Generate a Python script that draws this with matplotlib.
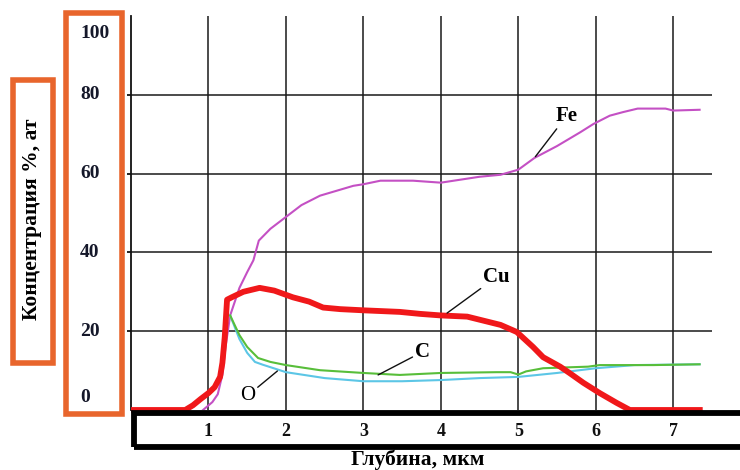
import matplotlib
matplotlib.use("Agg")
import matplotlib.pyplot as plt
from matplotlib.patches import Rectangle
from matplotlib.transforms import blended_transform_factory, offset_copy

# depth profiles, at.% vs depth in um
fe_depth = [0.93, 1.05, 1.12, 1.18, 1.22, 1.28, 1.4, 1.5, 1.58, 1.65, 1.8, 2.0, 2.2,
            2.44, 2.87, 3.0, 3.22, 3.64, 4.0, 4.5, 4.77, 5.0, 5.21, 5.5, 5.8, 5.97,
            6.18, 6.35, 6.54, 6.9, 7.0, 7.34]
fe_conc = [0, 2, 4, 9, 16, 24, 31, 35, 38, 43, 46, 49, 52,
           54.4, 56.9, 57.3, 58.2, 58.2, 57.7, 59.2, 59.7, 61, 64, 67, 70.5, 72.6,
           74.7, 75.6, 76.5, 76.5, 76, 76.2]

cu_depth = [0, 0.7, 0.8, 0.9, 1.0, 1.08, 1.15, 1.18, 1.21, 1.24, 1.3, 1.45, 1.66,
            1.85, 2.09, 2.3, 2.48, 2.7, 3.0, 3.47, 3.73, 4.0, 4.34, 4.77, 4.98, 5.19,
            5.32, 5.54, 5.66, 5.84, 6.05, 6.27, 6.44, 7.38]
cu_conc = [0, 0, 1.2, 2.8, 4.3, 5.8, 8.4, 12, 18.5, 28, 28.6, 30, 31,
           30.3, 28.6, 27.5, 26, 25.6, 25.3, 24.9, 24.4, 24, 23.7, 21.6, 19.8, 16,
           13.4, 11, 9.4, 6.9, 4.3, 1.8, 0, 0]

c_depth = [1.28, 1.4, 1.5, 1.64, 1.8, 2.0, 2.44, 3.0, 3.47, 4.0, 4.72, 4.9, 5.0,
           5.1, 5.32, 5.6, 5.9, 6.05, 6.74, 7.34]
c_conc = [24, 19, 16, 13.2, 12.2, 11.4, 10.1, 9.4, 8.9, 9.4, 9.6, 9.6, 9.0,
          9.8, 10.6, 10.8, 11.0, 11.4, 11.4, 11.6]

o_depth = [1.28, 1.4, 1.5, 1.6, 1.7, 2.0, 2.5, 3.0, 3.5, 4.0, 4.5, 5.0, 5.5,
           6.0, 6.5, 7.34]
o_conc = [24, 18, 14.5, 12.2, 11.5, 9.6, 8.1, 7.3, 7.3, 7.6, 8.1, 8.4, 9.4,
          10.6, 11.4, 11.6]

x_ticks = [1, 2, 3, 4, 5, 6, 7]
y_ticks = [0, 20, 40, 60, 80, 100]

# element labels: (text, point on curve, label position, alignment, weight)
labels = [
    ("Fe", (5.22, 64.3), (5.48, 74.6), "left", "bold"),
    ("Cu", (4.08, 24.6), (4.55, 33.8), "left", "bold"),
    ("C", (3.19, 8.9), (3.67, 14.8), "left", "bold"),
    ("O", (1.89, 9.9), (1.60, 3.6), "right", "normal"),
]

FONT = "Liberation Serif"
ORANGE = "#E8652C"
W, H = 740, 470

fig = plt.figure(figsize=(7.4, 4.7), dpi=100)
ax = fig.add_axes([131 / W, 60 / H, 581 / W, 394 / H])
ax.set_xlim(0, 7.5)
ax.set_ylim(0, 100)

for side in ["top", "right", "bottom"]:
    ax.spines[side].set_visible(False)
ax.spines["left"].set_linewidth(1.3)
ax.spines["left"].set_color("#111111")

ax.set_xticks(x_ticks)
ax.set_xticklabels([str(t) for t in x_ticks], fontfamily=FONT,
                   fontweight="bold", fontsize=13)
ax.tick_params(axis="x", length=0, pad=9, colors="#111111")
ax.set_yticks([t for t in y_ticks if 0 < t < 100])
ax.set_yticklabels([])
ax.tick_params(axis="y", length=3, width=1.3, color="#111111", direction="out")
ax.grid(True, color="#1a1a1a", linewidth=1.1)
ax.set_axisbelow(True)

ax.plot(fe_depth, fe_conc, color="#C450C4", linewidth=1.5, zorder=3)
ax.plot(o_depth, o_conc, color="#5CC6E6", linewidth=1.5, zorder=3)
ax.plot(c_depth, c_conc, color="#58BE3A", linewidth=1.5, zorder=3)
ax.plot(cu_depth, cu_conc, color="#F0181A", linewidth=4.2, zorder=4,
        solid_capstyle="butt", clip_on=False)

for text, xy, xytext, ha, weight in labels:
    ax.annotate(text, xy=xy, xytext=xytext, ha=ha, va="center",
                fontfamily=FONT, fontweight=weight, fontsize=15,
                arrowprops=dict(arrowstyle="-", color="#111111", lw=1.0,
                                shrinkA=0, shrinkB=0), zorder=5)

# y tick values, left-aligned inside the orange frame
trans = blended_transform_factory(fig.transFigure, ax.transData)
for t in y_ticks:
    dy = -17 if t == 100 else (12 if t == 0 else 0)
    tr = offset_copy(trans, fig=fig, y=dy * 0.72, units="points")
    fig.text(80 / W, t, str(t), transform=tr, ha="left", va="center",
             fontfamily=FONT, fontweight="bold", fontsize=14, color="#15182a")

# frames around the tick values and the axis title
fig.patches.append(Rectangle((65.5 / W, 1 - 414 / H), 56.5 / W, 401 / H,
                             transform=fig.transFigure, fill=False,
                             edgecolor=ORANGE, linewidth=4))
fig.patches.append(Rectangle((12.5 / W, 1 - 362.5 / H), 40 / W, 282.5 / H,
                             transform=fig.transFigure, fill=False,
                             edgecolor=ORANGE, linewidth=4))
fig.patches.append(Rectangle((134 / W, 1 - 446.5 / H), 640 / W, 34 / H,
                             transform=fig.transFigure, fill=False,
                             edgecolor="black", linewidth=4.2, zorder=6))

fig.text(32.5 / W, 1 - 219 / H, "Концентрация %, ат", rotation=90,
         ha="center", va="center", fontfamily=FONT, fontweight="bold",
         fontsize=15.5)
fig.text(418 / W, 1 - 460 / H, "Глубина, мкм", ha="center", va="center",
         fontfamily=FONT, fontweight="bold", fontsize=15.5)

fig.savefig("out.png", dpi=100)
